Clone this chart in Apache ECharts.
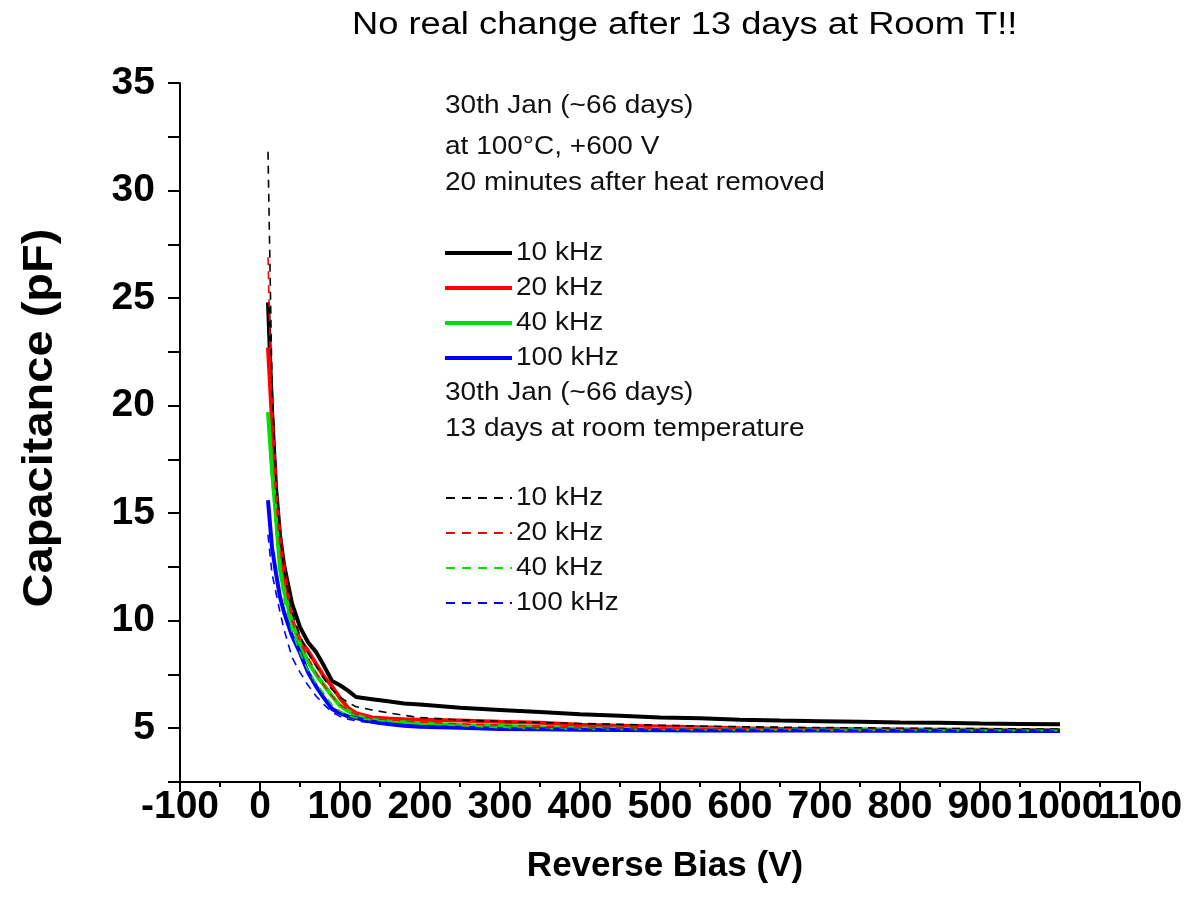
<!DOCTYPE html>
<html>
<head>
<meta charset="utf-8">
<script src="https://cdn.jsdelivr.net/npm/echarts@6/dist/echarts.min.js"></script>
<style>html,body{margin:0;padding:0;background:#fff}#c{width:1193px;height:919px}</style>
</head>
<body>
<div id="c"></div>
<script>
// Reverse bias (V)
const bias = [10, 15, 20, 25, 30, 40, 50, 60, 70, 80, 90, 100, 110, 120, 140, 160, 180, 200, 250, 300, 350, 400, 450, 500, 550, 600, 650, 700, 750, 800, 850, 900, 950, 1000];
// After heat removed (solid)
const heat10k  = [24.8, 19.8, 16.2, 14.0, 12.6, 10.8, 9.7, 9.0, 8.55, 7.9, 7.2, 7.0, 6.75, 6.45, 6.35, 6.25, 6.15, 6.1, 5.95, 5.85, 5.75, 5.65, 5.58, 5.5, 5.46, 5.4, 5.36, 5.33, 5.3, 5.27, 5.25, 5.22, 5.2, 5.18];
const heat20k  = [22.7, 19.3, 15.8, 13.7, 12.2, 10.05, 9.1, 8.6, 8.0, 7.4, 6.95, 6.4, 5.95, 5.7, 5.5, 5.45, 5.42, 5.4, 5.36, 5.3, 5.25, 5.16, 5.12, 5.08, 5.05, 5.0, 4.98, 4.97, 4.95, 4.94, 4.93, 4.93, 4.92, 4.92];
const heat40k  = [19.7, 17.0, 14.8, 12.4, 11.4, 9.9, 8.9, 8.1, 7.5, 7.0, 6.5, 6.05, 5.8, 5.6, 5.4, 5.32, 5.28, 5.22, 5.15, 5.1, 5.05, 5.0, 4.98, 4.96, 4.95, 4.94, 4.93, 4.92, 4.92, 4.91, 4.91, 4.9, 4.9, 4.9];
const heat100k = [15.6, 13.4, 12.2, 11.1, 10.4, 9.3, 8.5, 7.6, 6.95, 6.4, 5.9, 5.7, 5.55, 5.47, 5.3, 5.2, 5.12, 5.07, 5.02, 4.97, 4.95, 4.93, 4.92, 4.91, 4.9, 4.9, 4.89, 4.89, 4.88, 4.88, 4.88, 4.87, 4.87, 4.87];
// 13 days at room temperature (dashed)
const room10k  = [31.8, 21.0, 16.5, 14.0, 12.4, 10.4, 9.3, 8.5, 7.9, 7.3, 6.8, 6.45, 6.2, 6.0, 5.85, 5.72, 5.6, 5.5, 5.38, 5.32, 5.26, 5.22, 5.18, 5.14, 5.1, 5.07, 5.05, 5.03, 5.02, 5.0, 4.99, 4.98, 4.97, 4.96];
const room20k  = [26.9, 19.0, 15.5, 13.4, 12.0, 10.0, 9.0, 8.3, 7.6, 7.0, 6.5, 6.1, 5.85, 5.65, 5.45, 5.38, 5.32, 5.28, 5.2, 5.14, 5.1, 5.06, 5.03, 5.0, 4.98, 4.97, 4.96, 4.95, 4.94, 4.94, 4.93, 4.93, 4.92, 4.92];
const room40k  = [19.5, 16.5, 14.2, 12.2, 11.0, 9.5, 8.5, 7.7, 7.1, 6.6, 6.1, 5.8, 5.6, 5.48, 5.38, 5.32, 5.28, 5.22, 5.12, 5.02, 4.98, 4.95, 4.94, 4.93, 4.92, 4.91, 4.91, 4.9, 4.9, 4.9, 4.89, 4.89, 4.89, 4.89];
const room100k = [14.0, 12.2, 11.3, 10.4, 9.6, 8.3, 7.6, 7.0, 6.5, 6.1, 5.75, 5.55, 5.42, 5.35, 5.25, 5.18, 5.12, 5.08, 5.02, 4.97, 4.95, 4.93, 4.92, 4.91, 4.9, 4.9, 4.89, 4.89, 4.88, 4.88, 4.88, 4.87, 4.87, 4.87];

const freqLabels = ['10 kHz', '20 kHz', '40 kHz', '100 kHz'];
const colors = ['#000000', '#ff0000', '#00e000', '#0000ff'];
const titleText = 'No real change after 13 days at Room T!!';
const xName = 'Reverse Bias (V)';
const yName = 'Capacitance (pF)';
const heatNote = ['30th Jan (~66 days)', 'at 100°C, +600 V', '20 minutes after heat removed'];
const roomNote = ['30th Jan (~66 days)', '13 days at room temperature'];

const X_MIN = -100, X_MAX = 1100, X_STEP = 100;

const pair = arr => bias.map((v, i) => [v, arr[i]]);
const solidSets = [heat10k, heat20k, heat40k, heat100k];
const dashSets = [room10k, room20k, room40k, room100k];

const series = [];
solidSets.forEach((d, i) => series.push({
  type: 'line', name: freqLabels[i] + ' heat', data: pair(d), showSymbol: false,
  lineStyle: { color: colors[i], width: 4 }, z: 2 + i
}));
dashSets.forEach((d, i) => series.push({
  type: 'line', name: freqLabels[i] + ' room', data: pair(d), showSymbol: false,
  lineStyle: { color: colors[i], width: 1.6, type: [8, 6] }, z: 10 + i
}));

const FONT = '"Liberation Sans", Arial, sans-serif';
const graphic = [];
const noteStyle = (t, x, y) => ({
  type: 'text', x: x, y: y, scaleX: 1.12,
  style: { text: t, font: '25px ' + FONT, fill: '#111', textVerticalAlign: 'middle', textAlign: 'left' }
});
graphic.push({ type: 'text', x: 352, y: 25, scaleX: 1.17,
  style: { text: titleText, font: '31px ' + FONT, fill: '#000', textVerticalAlign: 'middle', textAlign: 'left' } });
heatNote.forEach((t, i) => graphic.push(noteStyle(t, 445, [106, 147, 183][i])));
roomNote.forEach((t, i) => graphic.push(noteStyle(t, 445, [393, 429][i])));
const solidY = [253, 288, 323, 358];
const dashY = [498, 533, 568, 603];
freqLabels.forEach((t, i) => {
  graphic.push({ type: 'line', shape: { x1: 445, y1: solidY[i], x2: 512, y2: solidY[i] },
    style: { stroke: colors[i], lineWidth: 4 } });
  graphic.push(noteStyle(t, 516, solidY[i]));
  graphic.push({ type: 'line', shape: { x1: 446, y1: dashY[i], x2: 512, y2: dashY[i] },
    style: { stroke: colors[i], lineWidth: 1.8, lineDash: [9, 7] } });
  graphic.push(noteStyle(t, 516, dashY[i]));
});
graphic.push({ type: 'text', x: 665, y: 866,
  style: { text: xName, font: 'bold 35px ' + FONT, fill: '#000', textAlign: 'center', textVerticalAlign: 'middle' } });
graphic.push({ type: 'text', x: 40, y: 418, rotation: Math.PI / 2, scaleX: 1.12,
  style: { text: yName, font: 'bold 42px ' + FONT, fill: '#000', textAlign: 'center', textVerticalAlign: 'middle' } });

const xLabelCommon = { margin: 6, color: '#000', fontSize: 39, fontWeight: 'bold', fontFamily: FONT, hideOverlap: false };

const chart = echarts.init(document.getElementById('c'), null, { renderer: 'canvas' });
chart.setOption({
  animation: false,
  backgroundColor: '#ffffff',
  grid: { left: 180, right: 53, top: 83, bottom: 137, containLabel: false },
  xAxis: [{
    type: 'value', min: X_MIN, max: X_MAX, interval: X_STEP,
    axisLine: { onZero: false, lineStyle: { color: '#000', width: 2 } },
    axisTick: { inside: false, length: 10, lineStyle: { color: '#000', width: 2 } },
    minorTick: { show: true, splitNumber: 2, length: 5, lineStyle: { color: '#000', width: 2 } },
    splitLine: { show: false },
    axisLabel: Object.assign({}, xLabelCommon, { showMinLabel: true, showMaxLabel: false,
      formatter: v => (v === X_MAX ? '' : String(v)) })
  }, {
    type: 'value', min: X_MIN, max: X_MAX, interval: X_STEP, position: 'bottom',
    axisLine: { show: false }, axisTick: { show: false }, splitLine: { show: false },
    axisLabel: Object.assign({}, xLabelCommon, { showMinLabel: false, showMaxLabel: true,
      formatter: v => (v === X_MAX ? String(v) : '') })
  }],
  yAxis: {
    type: 'value', min: 2.5, max: 35, interval: 2.5,
    axisLine: { onZero: false, lineStyle: { color: '#000', width: 2 } },
    axisTick: { inside: false, length: 12, lineStyle: { color: '#000', width: 2 } },
    splitLine: { show: false },
    axisLabel: { margin: 25, color: '#000', fontSize: 39, fontWeight: 'bold', fontFamily: FONT,
      showMinLabel: true, showMaxLabel: true,
      formatter: v => (Math.abs(v % 5) < 1e-9 ? String(v) : '') }
  },
  series: series,
  graphic: graphic
});
</script>
</body>
</html>
